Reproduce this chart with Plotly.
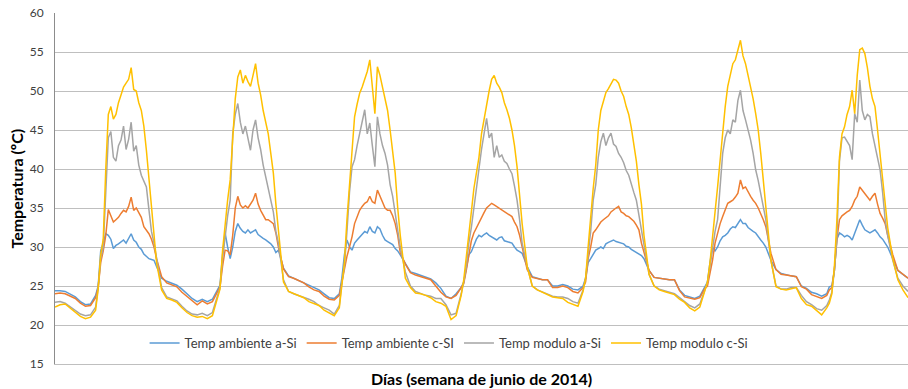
import plotly.graph_objects as go

# Time stamps in hours from the first midnight: hourly at night,
# half-hourly from 08:30 to 20:00 each day, and the final midnight (168 h).
hours = []
for day in range(7):
    base = day * 24
    hours += [base + h for h in range(9)]
    hours += [base + 8.5 + 0.5 * i for i in range(24)]
    hours += [base + 21, base + 22, base + 23]
hours.append(168)

temp_ambiente_aSi = [
    # day 1
    24.4, 24.4, 24.3, 24.0, 23.6, 23.0, 22.6, 22.7, 23.8,
    25.0, 29.5, 30.5, 31.7, 31.5, 31.0, 29.8, 30.2, 30.4, 30.6, 30.9, 30.5, 31.2, 31.7, 30.9, 30.6, 30.0, 29.7, 29.1, 28.8, 28.5, 28.4, 28.3, 27.5,
    26.0, 25.6, 25.4,
    # day 2
    25.1, 24.6, 24.0, 23.4, 23.0, 23.3, 23.0, 23.3, 24.5,
    25.1, 29.0, 31.8, 30.0, 28.5, 30.0, 32.0, 33.0, 32.4, 32.0, 31.8, 32.2, 31.8, 32.0, 32.2, 31.6, 31.3, 31.1, 30.9, 30.7, 30.4, 30.0, 29.3, 29.6,
    27.3, 26.3, 26.0,
    # day 3
    25.7, 25.5, 25.2, 24.8, 24.5, 24.0, 23.5, 23.4, 24.0,
    26.0, 29.0, 30.9, 30.0, 29.6, 30.5, 30.9, 31.3, 31.6, 32.0, 31.8, 32.6, 32.0, 31.8, 32.6, 32.3, 31.5, 30.9, 30.7, 30.5, 30.3, 29.8, 29.5, 29.0,
    27.8, 26.8, 26.6,
    # day 4
    26.4, 26.2, 25.9, 25.4, 24.7, 23.7, 23.4, 24.0, 24.8,
    25.5, 27.5, 29.0, 29.4, 30.2, 31.0, 31.5, 31.3, 31.6, 31.8, 31.5, 31.3, 31.2, 30.9, 31.2, 31.3, 30.8, 30.7, 30.6, 30.5, 30.0, 29.6, 29.4, 29.2,
    27.5, 26.2, 26.0,
    # day 5
    25.8, 25.8, 25.0, 25.0, 25.2, 25.0, 24.6, 24.5, 25.0,
    26.0, 28.0, 28.5, 29.0, 29.6, 29.8, 30.0, 29.8, 30.4, 30.6, 30.8, 30.9, 30.7, 30.6, 30.5, 30.4, 30.1, 30.0, 29.7, 29.5, 29.3, 29.1, 28.9, 28.5,
    27.0, 26.1, 26.0,
    # day 6
    25.9, 25.8, 25.8, 24.5, 23.8, 23.6, 23.4, 23.7, 25.0,
    25.5, 28.0, 30.0, 29.5, 30.0, 30.8, 31.3, 31.5, 31.8, 32.3, 32.6, 32.5, 33.0, 33.5, 33.0, 33.0, 32.5, 32.2, 32.0, 31.8, 31.3, 30.9, 30.5, 30.0,
    28.3, 27.1, 26.6,
    # day 7
    26.4, 26.3, 26.2, 25.0, 24.7, 24.2, 24.0, 23.7, 24.0,
    24.9, 25.0, 27.0, 31.0, 31.8, 31.6, 31.3, 31.5, 31.3, 30.9, 31.8, 32.5, 33.5, 32.8, 32.2, 32.0, 31.8, 32.0, 32.2, 31.8, 31.3, 31.0, 30.5, 30.0,
    28.5, 27.0, 26.5,
    26.0,
]

temp_ambiente_cSi = [
    # day 1
    24.0, 24.1, 24.0, 23.7, 23.4, 22.8, 22.4, 22.5, 23.5,
    24.8, 28.0, 29.5, 31.5, 34.8, 34.0, 33.2, 33.5, 33.8, 34.3, 34.7, 34.5, 35.2, 36.4, 34.7, 35.0, 34.3, 33.8, 32.6, 32.2, 31.7, 31.0, 30.0, 28.5,
    26.2, 25.4, 25.2,
    # day 2
    24.9, 24.2, 23.7, 23.2, 22.6, 23.1, 22.7, 23.0, 24.3,
    24.9, 27.5, 29.6, 29.5, 29.0, 31.5, 35.0, 36.5, 35.4, 35.0, 35.3, 35.0, 35.6, 36.0, 36.9, 35.5, 34.7, 34.0, 33.5, 33.5, 33.3, 33.0, 31.8, 30.0,
    27.2, 26.2, 26.0,
    # day 3
    25.7, 25.4, 24.9, 24.5, 24.3, 23.7, 23.3, 23.2, 23.8,
    25.5, 27.0, 28.8, 30.0, 31.3, 33.0, 33.8, 34.7, 35.2, 35.6, 35.8, 36.5, 35.8, 35.6, 37.3, 36.5, 35.8, 35.0, 34.7, 34.7, 34.0, 33.0, 31.5, 29.3,
    27.8, 26.7, 26.4,
    # day 4
    26.2, 26.0, 25.8, 25.0, 24.2, 23.6, 23.4, 23.8, 24.7,
    25.3, 27.0, 29.0, 30.8, 31.8, 32.5, 33.2, 33.8, 34.4, 35.0, 35.3, 35.6, 35.4, 35.2, 35.0, 34.7, 34.5, 34.3, 34.1, 33.9, 33.2, 32.6, 31.5, 30.0,
    27.1, 26.1, 25.9,
    # day 5
    25.8, 25.8, 24.8, 24.8, 25.0, 24.8, 24.3, 24.1, 24.8,
    25.5, 28.5, 30.0, 31.8, 32.2, 32.8, 33.2, 33.5, 33.8, 34.0, 34.5, 34.8, 35.0, 35.2, 34.5, 34.3, 34.0, 33.9, 33.6, 33.3, 32.8, 32.2, 30.5, 29.2,
    27.0, 26.1, 26.0,
    # day 6
    25.9, 25.8, 25.8, 24.4, 23.6, 23.4, 23.3, 23.5, 24.7,
    25.0, 26.5, 28.3, 30.5, 31.8, 33.0, 33.9, 34.8, 35.6, 35.8, 36.0, 36.4, 36.9, 38.6, 37.5, 37.7, 37.0, 36.5, 36.0, 35.6, 35.0, 34.3, 33.5, 32.6,
    29.2, 27.1, 26.5,
    # day 7
    26.4, 26.3, 26.2, 24.9, 24.6, 23.9, 23.7, 23.4, 23.8,
    24.5, 24.8, 27.0, 31.0, 33.5, 34.0, 34.3, 34.5, 34.7, 35.2, 36.0, 36.5, 37.7, 37.3, 36.9, 36.5, 36.0, 36.5, 36.9, 35.5, 34.3, 33.7, 33.0, 31.5,
    29.0, 27.0, 26.5,
    26.0,
]

temp_modulo_aSi = [
    # day 1
    22.9, 23.0, 22.8, 22.3, 21.8, 21.4, 21.2, 21.3, 22.3,
    24.8, 28.5, 30.0, 37.0, 44.0, 44.8, 41.5, 41.0, 43.0, 43.7, 45.5, 42.5, 43.8, 46.0, 42.3, 43.0, 40.5, 39.2, 38.5, 37.7, 34.8, 32.0, 30.5, 28.5,
    24.8, 23.6, 23.4,
    # day 2
    23.1, 22.4, 21.8, 21.4, 21.3, 21.5, 21.2, 21.6, 23.8,
    24.8, 28.5, 31.3, 34.0, 36.0, 44.5, 47.0, 48.4, 46.0, 44.5, 45.5, 44.0, 42.4, 45.0, 46.3, 44.0, 42.5, 40.5, 39.0, 37.5, 35.8, 34.5, 32.0, 30.5,
    25.8, 24.3, 24.0,
    # day 3
    23.8, 23.6, 23.3, 23.0, 22.5, 22.2, 21.9, 21.4, 22.5,
    25.5, 27.5, 32.0, 37.0, 40.3, 41.2, 43.0, 44.6, 46.0, 47.6, 44.5, 45.9, 43.0, 40.3, 46.7, 44.5, 43.0, 42.0, 40.5, 38.0, 36.5, 34.5, 32.0, 30.0,
    26.8, 25.0, 24.3,
    # day 4
    24.0, 23.8, 23.7, 23.4, 23.4, 22.6, 21.3, 21.5, 24.0,
    25.5, 27.5, 30.5, 32.5, 35.0, 38.0, 40.0, 42.5, 44.5, 46.5, 44.0, 44.6, 41.5, 43.0, 41.5, 41.8, 41.0, 40.7, 40.0, 39.4, 37.8, 36.0, 33.5, 30.5,
    27.5, 25.0, 24.5,
    # day 5
    24.2, 24.0, 23.7, 23.6, 23.6, 23.4, 23.0, 22.8, 24.5,
    26.0, 29.0, 32.0, 36.0, 38.0, 41.5, 43.5, 44.6, 43.0, 44.0, 44.6, 43.2, 42.9, 42.0, 41.5, 40.8, 39.8, 39.2, 38.0, 37.0, 36.0, 34.0, 32.0, 30.0,
    26.5, 25.0, 24.6,
    # day 6
    24.4, 24.2, 24.0, 23.5, 23.0, 22.5, 22.2, 22.7, 24.5,
    25.5, 27.5, 30.0, 32.0, 33.5, 38.0, 42.0, 44.0, 45.0, 44.5, 46.3, 46.0, 48.8, 50.1, 47.5, 46.3, 45.0, 43.7, 42.0, 39.9, 38.5, 36.9, 35.0, 33.5,
    28.3, 25.0, 24.6,
    # day 7
    24.6, 24.8, 24.8, 23.8, 23.0, 22.6, 22.1, 21.9, 22.5,
    23.2, 24.2, 27.0, 31.3, 41.0, 44.0, 44.1, 43.5, 43.0, 41.2, 47.1, 46.0, 51.4, 47.5, 46.3, 47.0, 46.7, 44.5, 42.9, 41.5, 39.9, 37.0, 33.5, 31.5,
    28.3, 26.0, 25.0,
    24.3,
]

temp_modulo_cSi = [
    # day 1
    22.3, 22.6, 22.7, 22.2, 21.6, 21.1, 20.8, 21.0, 21.9,
    24.6, 29.0, 31.0, 40.0, 47.0, 48.0, 46.4, 47.0, 48.5, 49.5, 50.5, 51.0, 51.5, 53.0, 50.2, 50.0, 48.5, 47.5, 45.5, 42.4, 39.0, 35.5, 31.5, 28.0,
    24.5, 23.4, 23.2,
    # day 2
    22.9, 22.2, 21.6, 21.2, 21.0, 21.1, 20.8, 21.2, 23.5,
    24.6, 29.5, 33.0, 36.0, 38.6, 44.0, 49.0, 51.8, 52.7, 51.0, 52.0, 51.2, 50.6, 52.0, 53.5, 51.0, 49.5, 47.5, 45.8, 44.5, 42.0, 39.5, 35.5, 32.0,
    25.5, 24.3, 24.0,
    # day 3
    23.8, 23.5, 23.0, 22.8, 22.5, 21.9, 21.5, 21.2, 22.2,
    25.5, 28.0, 33.5, 38.0, 42.5, 46.7, 48.3, 49.7, 50.5, 51.4, 52.5, 54.0, 50.5, 47.1, 53.1, 52.0, 50.5, 49.0, 47.5, 45.0, 42.0, 39.5, 35.0, 31.5,
    26.0, 24.8, 24.1,
    # day 4
    24.0, 23.8, 23.5, 23.0, 22.8, 22.4, 20.7, 21.2, 23.8,
    25.8, 28.5, 32.0, 34.5, 37.5, 39.5, 41.5, 44.5, 46.5, 48.5, 50.0, 51.5, 52.0, 51.0, 50.5, 49.8, 48.5, 47.6, 46.5, 45.0, 43.0, 40.3, 37.0, 33.0,
    27.5, 25.0, 24.5,
    # day 5
    24.2, 24.0, 23.6, 23.5, 23.4, 22.9, 22.6, 22.4, 24.3,
    26.0, 30.0, 34.0, 37.5, 40.5, 45.0, 47.5, 48.8, 49.8, 50.3, 51.0, 51.5, 51.4, 51.0, 50.0, 49.3, 48.0, 47.0, 45.3, 43.0, 41.0, 38.0, 35.5, 31.5,
    26.5, 25.0, 24.5,
    # day 6
    24.3, 24.1, 23.9, 23.3, 22.9, 22.2, 21.8, 22.3, 24.5,
    25.5, 28.0, 30.9, 34.5, 37.7, 41.5, 45.0, 48.0, 50.6, 52.0, 53.5, 54.0, 55.3, 56.5, 54.5, 53.5, 52.0, 50.6, 49.0, 47.1, 45.0, 42.0, 38.5, 35.2,
    28.3, 24.9, 24.6,
    # day 7
    24.5, 24.7, 24.8, 23.4, 22.6, 22.4, 21.8, 21.3, 22.2,
    22.8, 24.0, 27.5, 33.5, 41.5, 44.5, 45.4, 47.0, 48.0, 50.1, 47.1, 52.0, 55.3, 55.5, 54.8, 53.0, 50.6, 49.0, 48.0, 45.0, 42.0, 39.0, 35.2, 32.5,
    28.5, 25.8, 24.5,
    23.5,
]

series_names = ["Temp ambiente a-Si", "Temp ambiente c-SI", "Temp modulo a-Si", "Temp modulo c-Si"]
series_values = [temp_ambiente_aSi, temp_ambiente_cSi, temp_modulo_aSi, temp_modulo_cSi]
series_colors = ["#5B9BD5", "#ED7D31", "#A5A5A5", "#FFC000"]

for vals in series_values:
    assert len(vals) == len(hours), (len(vals), len(hours))

FONT = "Lato"
TEXT_COLOR = "#404040"

fig = go.Figure()
for name, vals, color in zip(series_names, series_values, series_colors):
    fig.add_trace(go.Scatter(
        x=hours, y=vals, mode="lines", name=name,
        line=dict(color=color, width=1.5),
    ))

fig.update_layout(
    width=908, height=389,
    margin=dict(l=55, r=0, t=13, b=25),
    paper_bgcolor="white", plot_bgcolor="white",
    font=dict(family=FONT, size=12, color=TEXT_COLOR),
    showlegend=True,
    legend=dict(
        orientation="h", x=0.462, xanchor="center", y=0.06, yanchor="middle",
        bgcolor="rgba(0,0,0,0)", font=dict(family=FONT, size=13, color=TEXT_COLOR),
        itemwidth=30,
    ),
    xaxis=dict(
        range=[0, 168], showticklabels=False, showgrid=False, zeroline=False,
        showline=True, linecolor="#BFBFBF", linewidth=1, ticks="",
    ),
    yaxis=dict(
        range=[15, 60], tick0=15, dtick=5, showgrid=True, gridcolor="#BFBFBF", gridwidth=1,
        zeroline=False, showline=True, linecolor="#8C8C8C", linewidth=1, ticks="",
        tickfont=dict(family=FONT, size=12, color=TEXT_COLOR), ticklabelstandoff=8,
    ),
    annotations=[
        dict(text="<b>Temperatura (ºC)</b>", xref="paper", yref="paper", x=0, y=0.5,
             xanchor="center", yanchor="middle", xshift=-39, textangle=-90, showarrow=False,
             font=dict(family=FONT, size=16, color="black")),
        dict(text="<b>Días (semana de junio de 2014)</b>", xref="paper", yref="paper", x=0.5, y=0,
             xanchor="center", yanchor="middle", yshift=-14, showarrow=False,
             font=dict(family=FONT, size=16, color="black")),
    ],
)

fig.write_html("out.html")
